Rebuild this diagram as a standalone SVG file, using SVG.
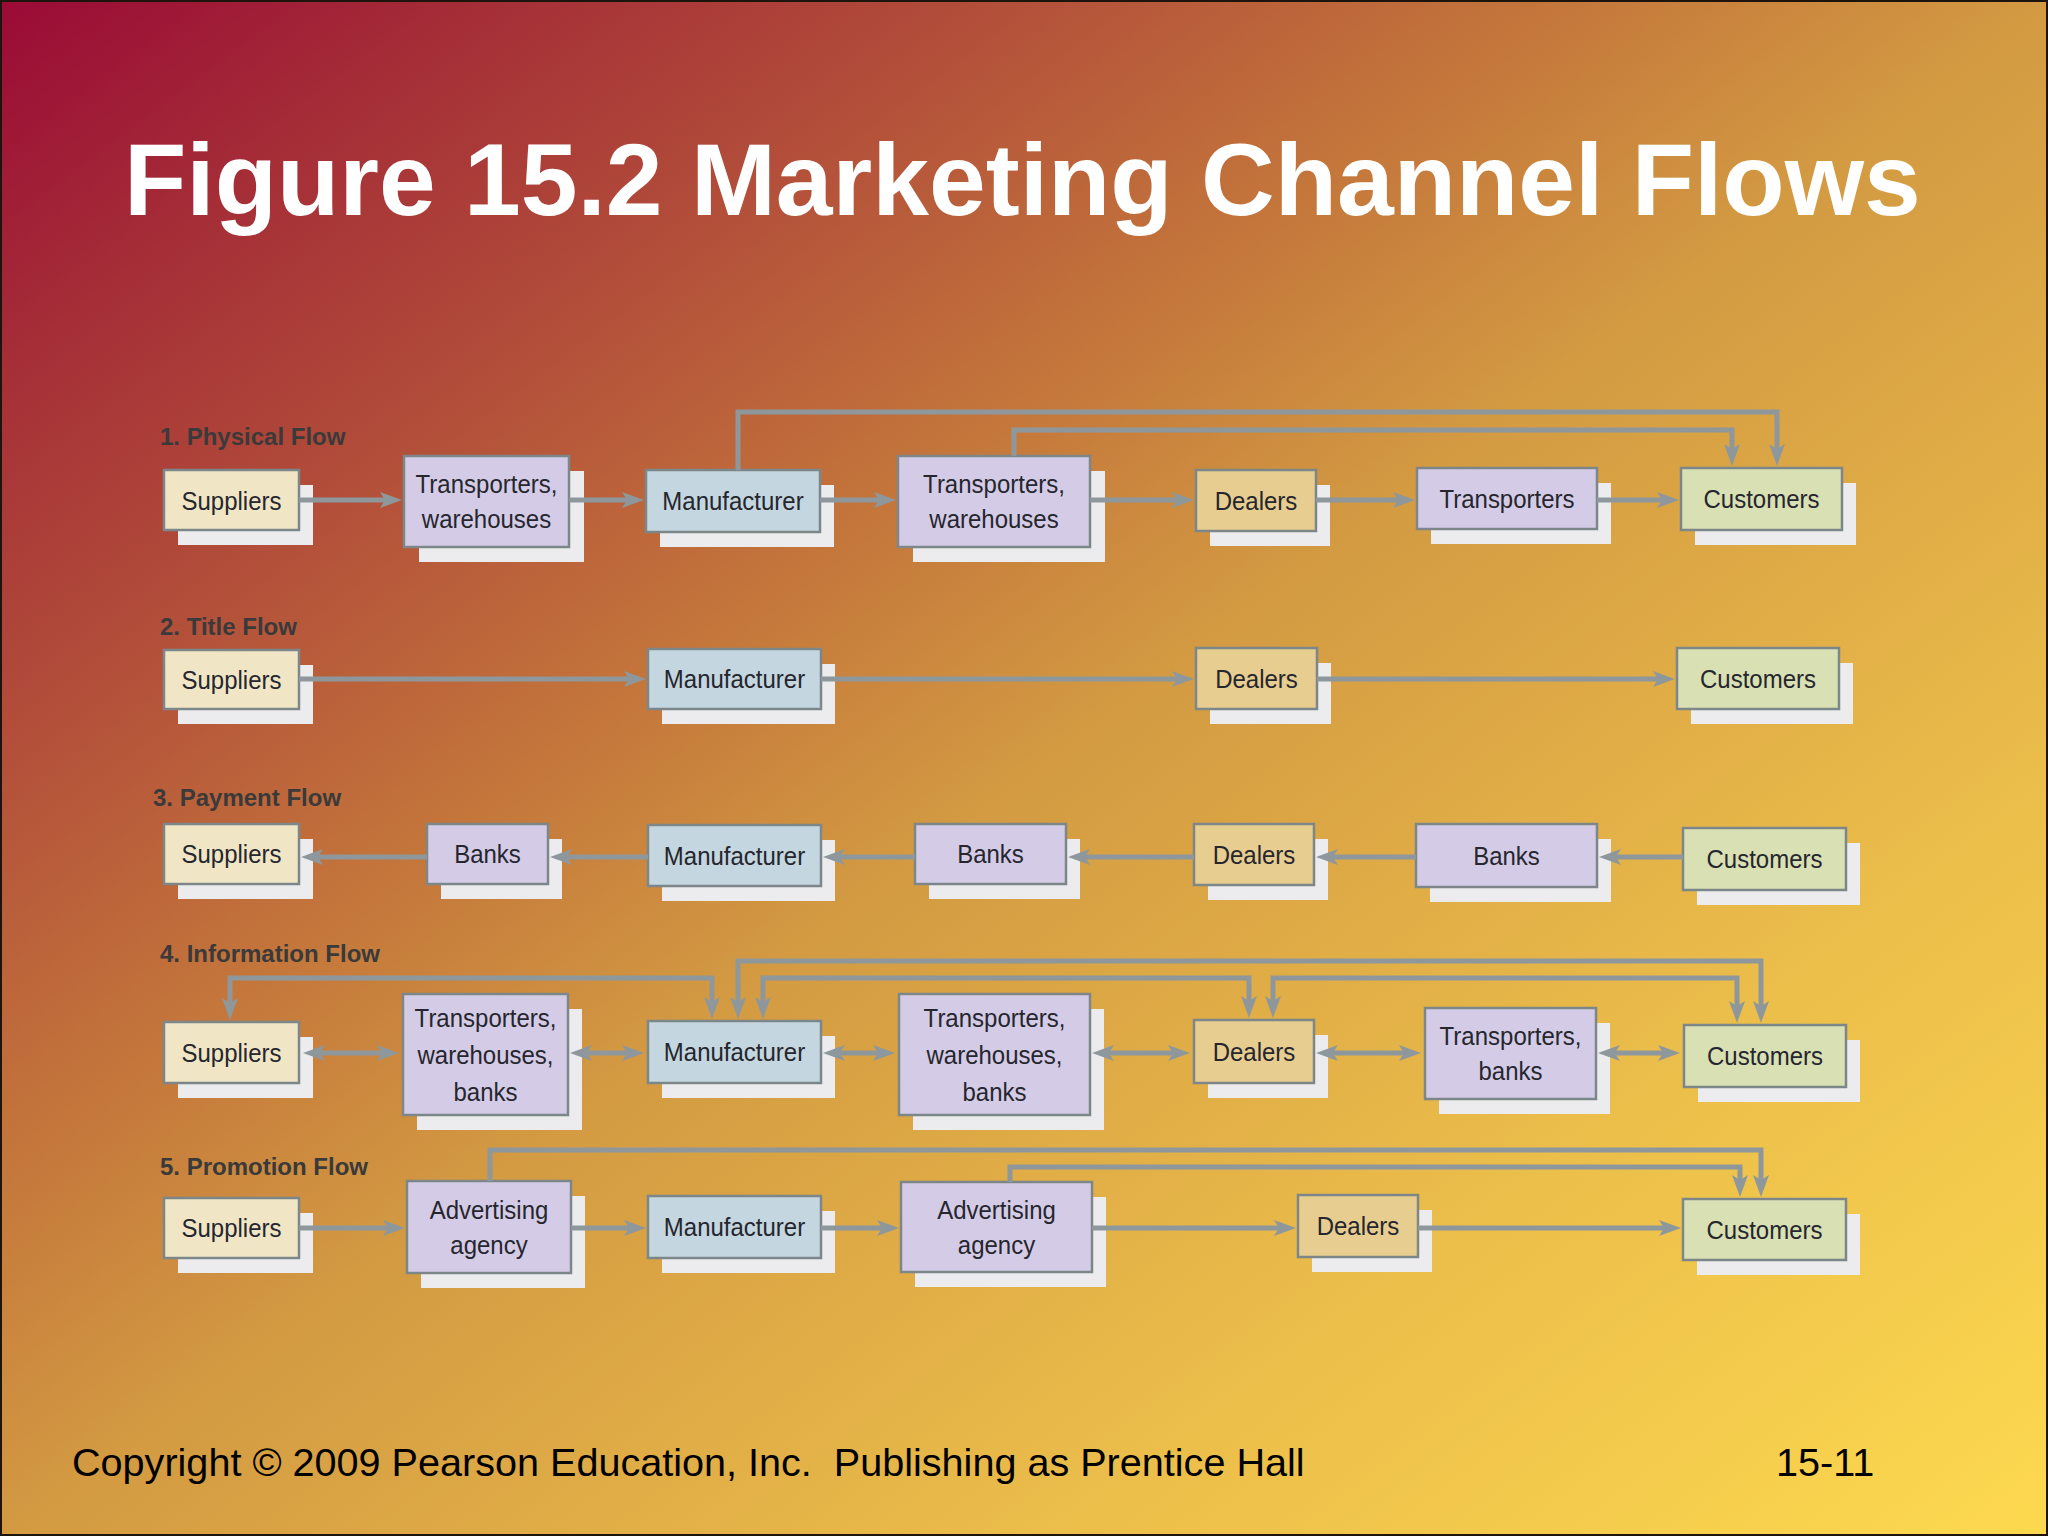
<svg xmlns="http://www.w3.org/2000/svg" width="2048" height="1536" viewBox="0 0 2048 1536">
<defs>
<linearGradient id="bgGrad" x1="0" y1="0" x2="1" y2="1">
<stop offset="0" stop-color="#9a0a36"/>
<stop offset="0.12" stop-color="#a52e37"/>
<stop offset="0.25" stop-color="#b3503a"/>
<stop offset="0.38" stop-color="#c4763b"/>
<stop offset="0.5" stop-color="#d39a42"/>
<stop offset="0.75" stop-color="#ebbd4a"/>
<stop offset="1" stop-color="#fdd94f"/>
</linearGradient>
<marker id="ah" markerUnits="userSpaceOnUse" markerWidth="22" markerHeight="16" viewBox="0 0 22 16" refX="12" refY="8" orient="auto-start-reverse">
<path d="M0,0 L22,8 L0,16 L5,8 z" fill="#8e989c"/>
</marker>
<style>
.sh { fill:#ececee; }
.bx { stroke:#7d8789; stroke-width:2.5; }
.sup { fill:#f0e6c6; }
.lav { fill:#d4cce6; }
.man { fill:#c4d6df; }
.dea { fill:#e7cd8f; }
.cus { fill:#d9e0b4; }
.nt { font-family:"Liberation Sans",Arial,sans-serif; font-size:24px; fill:#26262e; text-anchor:middle; transform-box:fill-box; transform-origin:center; transform:scaleY(1.08); }
.lbl { font-family:"Liberation Sans",Arial,sans-serif; font-weight:bold; font-size:24px; fill:#3a3a3a; }
.cn { fill:none; stroke:#8e989c; stroke-width:5; }
.one { marker-end:url(#ah); }
.two { marker-start:url(#ah); marker-end:url(#ah); }
.title { font-family:"Liberation Sans",Arial,sans-serif; font-weight:bold; font-size:102px; fill:#ffffff; }
.foot { font-family:"Liberation Sans",Arial,sans-serif; font-size:39.6px; fill:#000000; white-space:pre; }
</style>
</defs>

<rect x="0" y="0" width="2048" height="1536" fill="url(#bgGrad)"/>
<rect x="1" y="1" width="2046" height="1534" fill="none" stroke="#1e140e" stroke-width="2"/>

<text class="title" x="124" y="215">Figure 15.2 Marketing Channel Flows</text>

<g id="labels">
<text class="lbl" x="160" y="445">1. Physical Flow</text>
<text class="lbl" x="160" y="635">2. Title Flow</text>
<text class="lbl" x="153" y="806">3. Payment Flow</text>
<text class="lbl" x="160" y="962">4. Information Flow</text>
<text class="lbl" x="160" y="1175">5. Promotion Flow</text>
</g>

<!-- Row 1: Physical Flow -->
<g id="r1-suppliers"><rect class="sh" x="178" y="485" width="135" height="60"/><rect class="bx sup" x="164" y="470" width="135" height="60"/><text class="nt" x="231.5" y="509">Suppliers</text></g>
<g id="r1-transporters-warehouses-a"><rect class="sh" x="419" y="471" width="165" height="91"/><rect class="bx lav" x="404" y="456" width="165" height="91"/><text class="nt" x="486.5" y="492.5">Transporters,</text><text class="nt" x="486.5" y="527.5">warehouses</text></g>
<g id="r1-manufacturer"><rect class="sh" x="660" y="485" width="174" height="62"/><rect class="bx man" x="646" y="470" width="174" height="62"/><text class="nt" x="733" y="509.5">Manufacturer</text></g>
<g id="r1-transporters-warehouses-b"><rect class="sh" x="913" y="471" width="192" height="91"/><rect class="bx lav" x="898" y="456" width="192" height="91"/><text class="nt" x="994" y="492.5">Transporters,</text><text class="nt" x="994" y="527.5">warehouses</text></g>
<g id="r1-dealers"><rect class="sh" x="1210" y="485" width="120" height="61"/><rect class="bx dea" x="1196" y="470" width="120" height="61"/><text class="nt" x="1256" y="509">Dealers</text></g>
<g id="r1-transporters"><rect class="sh" x="1431" y="483" width="180" height="61"/><rect class="bx lav" x="1417" y="468" width="180" height="61"/><text class="nt" x="1507" y="507">Transporters</text></g>
<g id="r1-customers"><rect class="sh" x="1695" y="483" width="161" height="62"/><rect class="bx cus" x="1681" y="468" width="161" height="62"/><text class="nt" x="1761.5" y="507.5">Customers</text></g>

<!-- Row 2: Title Flow -->
<g id="r2-suppliers"><rect class="sh" x="178" y="665" width="135" height="59"/><rect class="bx sup" x="164" y="650" width="135" height="59"/><text class="nt" x="231.5" y="688">Suppliers</text></g>
<g id="r2-manufacturer"><rect class="sh" x="662" y="664" width="173" height="60"/><rect class="bx man" x="648" y="649" width="173" height="60"/><text class="nt" x="734.5" y="687.5">Manufacturer</text></g>
<g id="r2-dealers"><rect class="sh" x="1210" y="663" width="121" height="61"/><rect class="bx dea" x="1196" y="648" width="121" height="61"/><text class="nt" x="1256.5" y="687">Dealers</text></g>
<g id="r2-customers"><rect class="sh" x="1691" y="663" width="162" height="61"/><rect class="bx cus" x="1677" y="648" width="162" height="61"/><text class="nt" x="1758" y="687">Customers</text></g>

<!-- Row 3: Payment Flow -->
<g id="r3-suppliers"><rect class="sh" x="178" y="839" width="135" height="60"/><rect class="bx sup" x="164" y="824" width="135" height="60"/><text class="nt" x="231.5" y="862.5">Suppliers</text></g>
<g id="r3-banks-a"><rect class="sh" x="441" y="839" width="121" height="60"/><rect class="bx lav" x="427" y="824" width="121" height="60"/><text class="nt" x="487.5" y="862.5">Banks</text></g>
<g id="r3-manufacturer"><rect class="sh" x="662" y="840" width="173" height="61"/><rect class="bx man" x="648" y="825" width="173" height="61"/><text class="nt" x="734.5" y="864">Manufacturer</text></g>
<g id="r3-banks-b"><rect class="sh" x="929" y="839" width="151" height="60"/><rect class="bx lav" x="915" y="824" width="151" height="60"/><text class="nt" x="990.5" y="862.5">Banks</text></g>
<g id="r3-dealers"><rect class="sh" x="1208" y="839" width="120" height="61"/><rect class="bx dea" x="1194" y="824" width="120" height="61"/><text class="nt" x="1254" y="863">Dealers</text></g>
<g id="r3-banks-c"><rect class="sh" x="1430" y="839" width="181" height="63"/><rect class="bx lav" x="1416" y="824" width="181" height="63"/><text class="nt" x="1506.5" y="864">Banks</text></g>
<g id="r3-customers"><rect class="sh" x="1697" y="843" width="163" height="62"/><rect class="bx cus" x="1683" y="828" width="163" height="62"/><text class="nt" x="1764.5" y="867.5">Customers</text></g>

<!-- Row 4: Information Flow -->
<g id="r4-suppliers"><rect class="sh" x="178" y="1037" width="135" height="61"/><rect class="bx sup" x="164" y="1022" width="135" height="61"/><text class="nt" x="231.5" y="1061">Suppliers</text></g>
<g id="r4-transporters-warehouses-banks-a"><rect class="sh" x="417" y="1009" width="165" height="121"/><rect class="bx lav" x="403" y="994" width="165" height="121"/><text class="nt" x="485.5" y="1026">Transporters,</text><text class="nt" x="485.5" y="1063">warehouses,</text><text class="nt" x="485.5" y="1100">banks</text></g>
<g id="r4-manufacturer"><rect class="sh" x="662" y="1036" width="173" height="62"/><rect class="bx man" x="648" y="1021" width="173" height="62"/><text class="nt" x="734.5" y="1060.5">Manufacturer</text></g>
<g id="r4-transporters-warehouses-banks-b"><rect class="sh" x="913" y="1009" width="191" height="121"/><rect class="bx lav" x="899" y="994" width="191" height="121"/><text class="nt" x="994.5" y="1026">Transporters,</text><text class="nt" x="994.5" y="1063">warehouses,</text><text class="nt" x="994.5" y="1100">banks</text></g>
<g id="r4-dealers"><rect class="sh" x="1208" y="1035" width="120" height="63"/><rect class="bx dea" x="1194" y="1020" width="120" height="63"/><text class="nt" x="1254" y="1060">Dealers</text></g>
<g id="r4-transporters-banks"><rect class="sh" x="1439" y="1023" width="171" height="91"/><rect class="bx lav" x="1425" y="1008" width="171" height="91"/><text class="nt" x="1510.5" y="1044.5">Transporters,</text><text class="nt" x="1510.5" y="1079.5">banks</text></g>
<g id="r4-customers"><rect class="sh" x="1698" y="1040" width="162" height="62"/><rect class="bx cus" x="1684" y="1025" width="162" height="62"/><text class="nt" x="1765" y="1064.5">Customers</text></g>

<!-- Row 5: Promotion Flow -->
<g id="r5-suppliers"><rect class="sh" x="178" y="1213" width="135" height="60"/><rect class="bx sup" x="164" y="1198" width="135" height="60"/><text class="nt" x="231.5" y="1236.5">Suppliers</text></g>
<g id="r5-advertising-agency-a"><rect class="sh" x="421" y="1196" width="164" height="92"/><rect class="bx lav" x="407" y="1181" width="164" height="92"/><text class="nt" x="489" y="1218">Advertising</text><text class="nt" x="489" y="1253">agency</text></g>
<g id="r5-manufacturer"><rect class="sh" x="662" y="1211" width="173" height="62"/><rect class="bx man" x="648" y="1196" width="173" height="62"/><text class="nt" x="734.5" y="1235.5">Manufacturer</text></g>
<g id="r5-advertising-agency-b"><rect class="sh" x="915" y="1197" width="191" height="90"/><rect class="bx lav" x="901" y="1182" width="191" height="90"/><text class="nt" x="996.5" y="1218">Advertising</text><text class="nt" x="996.5" y="1253">agency</text></g>
<g id="r5-dealers"><rect class="sh" x="1312" y="1210" width="120" height="62"/><rect class="bx dea" x="1298" y="1195" width="120" height="62"/><text class="nt" x="1358" y="1234.5">Dealers</text></g>
<g id="r5-customers"><rect class="sh" x="1697" y="1214" width="163" height="61"/><rect class="bx cus" x="1683" y="1199" width="163" height="61"/><text class="nt" x="1764.5" y="1238">Customers</text></g>

<g id="connectors">
<!-- row 1 -->
<path class="cn one" d="M299,500 H392"/>
<path class="cn one" d="M569,500 H634"/>
<path class="cn one" d="M820,500 H886"/>
<path class="cn one" d="M1090,500 H1184"/>
<path class="cn one" d="M1316,500 H1405"/>
<path class="cn one" d="M1597,500 H1669"/>
<path class="cn one" d="M738,470 V412 H1777 V456"/>
<path class="cn one" d="M1014,456 V430 H1732 V456"/>
<!-- row 2 -->
<path class="cn one" d="M299,679 H636"/>
<path class="cn one" d="M821,679 H1184"/>
<path class="cn one" d="M1317,679 H1665"/>
<!-- row 3 -->
<path class="cn one" d="M427,857 H311"/>
<path class="cn one" d="M648,857 H560"/>
<path class="cn one" d="M915,857 H833"/>
<path class="cn one" d="M1194,857 H1078"/>
<path class="cn one" d="M1416,857 H1326"/>
<path class="cn one" d="M1683,857 H1609"/>
<!-- row 4 -->
<path class="cn two" d="M313,1053 H389"/>
<path class="cn two" d="M580,1053 H634"/>
<path class="cn two" d="M833,1053 H885"/>
<path class="cn two" d="M1102,1053 H1180"/>
<path class="cn two" d="M1326,1053 H1411"/>
<path class="cn two" d="M1608,1053 H1670"/>
<path class="cn two" d="M230,1010 V978 H712 V1009"/>
<path class="cn two" d="M738,1009 V961 H1761 V1013"/>
<path class="cn two" d="M763,1009 V978 H1249 V1008"/>
<path class="cn two" d="M1273,1008 V978 H1737 V1013"/>
<!-- row 5 -->
<path class="cn one" d="M299,1228 H395"/>
<path class="cn one" d="M571,1228 H636"/>
<path class="cn one" d="M821,1228 H889"/>
<path class="cn one" d="M1092,1228 H1286"/>
<path class="cn one" d="M1418,1228 H1671"/>
<path class="cn one" d="M490,1181 V1150 H1761 V1187"/>
<path class="cn one" d="M1010,1182 V1167 H1740 V1187"/>
</g>

<text class="foot" x="72" y="1476">Copyright © 2009 Pearson Education, Inc.  Publishing as Prentice Hall</text>
<text class="foot" x="1776" y="1476">15-11</text>
</svg>
